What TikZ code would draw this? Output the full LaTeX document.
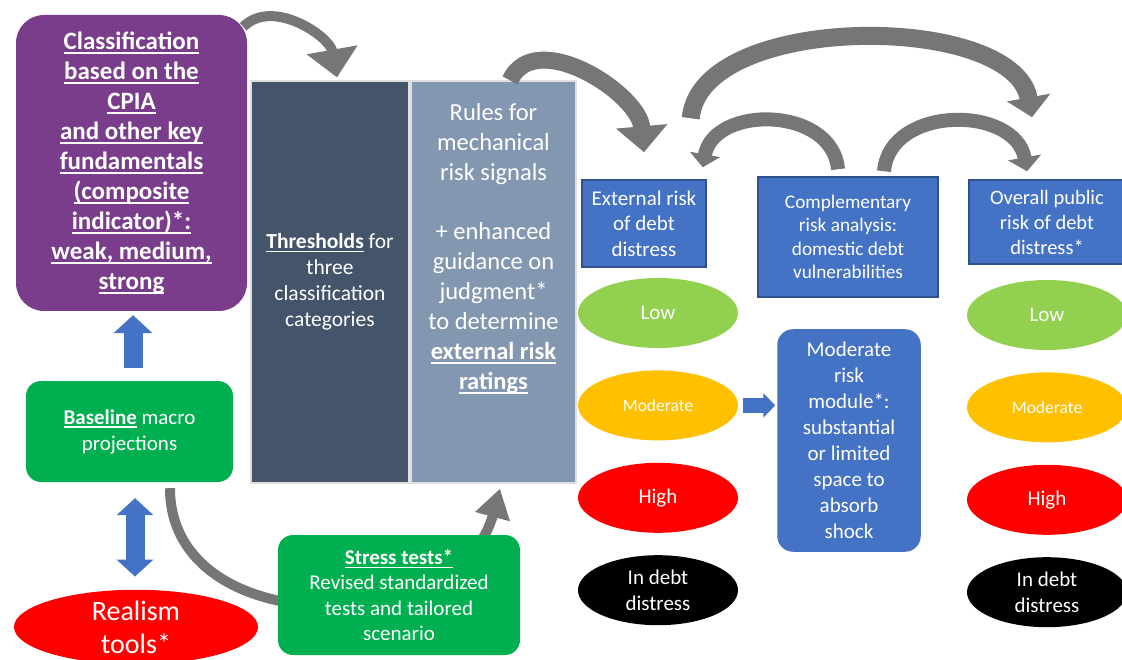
\documentclass[tikz,border=0pt]{standalone}
\usepackage{fontspec}
\setmainfont{Carlito}
\usetikzlibrary{shapes.geometric, arrows.meta, positioning}
\newsavebox{\ulbox}
\newcommand{\uln}[1]{\sbox{\ulbox}{#1}\rlap{\rule[-0.17em]{\wd\ulbox}{0.065em}}\usebox{\ulbox}}
\definecolor{dsapurple}{RGB}{122,61,140}
\definecolor{dsagreen}{RGB}{0,176,80}
\definecolor{dsablue}{RGB}{68,114,196}
\definecolor{dsablueline}{RGB}{47,82,143}
\definecolor{slatedark}{RGB}{68,84,106}
\definecolor{slatelight}{RGB}{132,151,176}
\definecolor{lowgreen}{RGB}{146,208,80}
\definecolor{amber}{RGB}{255,192,0}
\definecolor{arrowgrey}{RGB}{118,118,118}
\tikzstyle{panel} = [rectangle, text=white, align=center, inner sep=0pt]
\tikzstyle{bluebox} = [panel, fill=dsablue, draw=dsablueline, line width=1.5pt]
\tikzstyle{slate} = [panel, draw=white!75!gray, line width=1.2pt, minimum height=402pt]
\tikzstyle{rating} = [ellipse, text=white, align=center, inner sep=0pt, minimum width=160pt, minimum height=70pt, font=\fontsize{21}{26}\selectfont]
\tikzstyle{greyarrow} = [draw=arrowgrey]
\tikzstyle{blockarrow} = [draw=dsablue]

\begin{document}
\begin{tikzpicture}[x=1pt, y=-1pt, node distance=22pt]
  \useasboundingbox (0,0) rectangle (1122,660);
  \clip (0,0) rectangle (1122,660);

  % Bloques de la izquierda
  \node (classif) [panel, fill=dsapurple, rounded corners=28pt, minimum width=231pt, minimum height=296pt, font=\fontsize{25}{30}\selectfont\bfseries] at (131.5,163)
    {\uln{Classification}\\\uln{based on the}\\\uln{CPIA}\\\uln{and other key}\\\uln{fundamentals}\\\uln{(composite}\\\uln{indicator)*:}\\\uln{weak, medium,}\\\uln{strong}};
  \node (base) [panel, fill=dsagreen, rounded corners=15pt, minimum width=207pt, minimum height=101pt, font=\fontsize{21}{26}\selectfont] at (129.5,431.5)
    {\uln{\textbf{Baseline}} macro\\projections};
  \node (realism) [ellipse, fill=red, text=white, align=center, inner sep=0pt, minimum width=244pt, minimum height=74pt, font=\fontsize{28}{33}\selectfont] at (136,627)
    {Realism\\tools*};

  % Umbrales y reglas
  \node (thresh) [slate, fill=slatedark, minimum width=158pt, font=\fontsize{21.5}{26}\selectfont] at (330,282)
    {\uln{\textbf{Thresholds}} for\\three\\classification\\categories};
  \node (rules) [slate, fill=slatelight, minimum width=165pt] at (493.5,282) {};
  \node (rulestxt) [panel, anchor=north, font=\fontsize{24.5}{30}\selectfont] at ([yshift=-23pt]rules.north)
    {Rules for\\mechanical\\risk signals\\[29pt]+ enhanced\\guidance on\\judgment*\\to determine\\\uln{\textbf{external risk}}\\\uln{\textbf{ratings}}};

  % Flecha de abajo (pasa por detras de las pruebas de estres)
  \draw [greyarrow, line width=10pt, -{Triangle[width=34pt,length=29pt]}] ([xshift=40.5pt,yshift=-6pt]base.south) to[out=-90, in=-105, looseness=1.2] ([xshift=6.5pt,yshift=-5pt]rules.south);
  \node (stress) [panel, fill=dsagreen, rounded corners=15pt, minimum width=242pt, minimum height=120pt, font=\fontsize{21}{25.3}\selectfont] at (399,595)
    {\uln{\textbf{Stress tests*}}\\Revised standardized\\tests and tailored\\scenario};

  % Calificaciones externas
  \node (ext) [bluebox, minimum width=124pt, minimum height=87pt, font=\fontsize{21}{25.5}\selectfont] at (644,223.5)
    {External risk\\of debt\\distress};
  \node (lowA) [rating, fill=lowgreen] at (658,313) {Low};
  \node (modA) [rating, fill=amber, below=of lowA, font=\fontsize{17.5}{21}\selectfont] {Moderate};
  \node (highA) [rating, fill=red, below=of modA] {High};
  \node (distA) [rating, fill=black, below=of highA] {In debt\\distress};

  % Analisis complementario
  \node (comp) [bluebox, minimum width=180pt, minimum height=120pt, font=\fontsize{19.3}{23.5}\selectfont] at (848,237)
    {Complementary\\risk analysis:\\domestic debt\\vulnerabilities};
  \node (module) [bluebox, draw=dsablue, rounded corners=15pt, minimum width=142pt, minimum height=221pt, font=\fontsize{21}{26}\selectfont] at (849,440.5)
    {Moderate\\risk\\module*:\\substantial\\or limited\\space to\\absorb\\shock};

  % Riesgo global
  \node (overall) [bluebox, minimum width=156pt, minimum height=84pt, font=\fontsize{20.5}{25}\selectfont] at (1047,222)
    {Overall public\\risk of debt\\distress*};
  \node (lowB) [rating, fill=lowgreen] at (1047,315) {Low};
  \node (modB) [rating, fill=amber, below=of lowB, font=\fontsize{17.5}{21}\selectfont] {Moderate};
  \node (highB) [rating, fill=red, below=of modB] {High};
  \node (distB) [rating, fill=black, below=of highB] {In debt\\distress};

  % Flechas azules
  \draw [blockarrow, line width=19pt, -{Triangle[width=38pt,length=18pt]}] ([xshift=3.5pt,yshift=13pt]base.north) -- ([xshift=1.5pt,yshift=-4pt]classif.south);
  \draw [blockarrow, line width=19pt, {Triangle[width=36pt,length=17pt]}-{Triangle[width=36pt,length=17pt]}] ([xshift=5.5pt,yshift=-16pt]base.south) -- ([xshift=-1pt,yshift=13pt]realism.north);
  \draw [blockarrow, line width=15pt, -{Triangle[width=24pt,length=12pt]}, shorten <=5pt, shorten >=2pt] (modA.east) -- (modA.east -| module.west);

  % Flechas grises curvas
  \draw [greyarrow, line width=10pt, -{Triangle[width=50pt,length=28pt]}] ([xshift=-4pt,yshift=-12pt]classif.north east) to[out=45, in=100] ([xshift=7pt,yshift=3pt]thresh.north);
  \draw [greyarrow, line width=17pt, -{Triangle[width=50pt,length=26pt]}] ([xshift=16.5pt]rules.north) to[out=65, in=95] ([yshift=27pt]ext.north);
  \draw [greyarrow, line width=18pt, -{Triangle[width=43pt,length=20pt]}] ([xshift=-16pt,yshift=61pt]ext.north east) to[out=85, in=100, looseness=0.8] ([xshift=-15pt,yshift=62pt]overall.north);
  \draw [greyarrow, line width=14pt, -{Triangle[width=30pt,length=13pt]}] ([xshift=-10pt,yshift=7pt]comp.north) to[out=95, in=80, looseness=1.2] ([xshift=-4pt,yshift=12pt]ext.north east);
  \draw [greyarrow, line width=14pt, -{Triangle[width=33pt,length=14pt]}] ([xshift=36pt,yshift=5pt]comp.north) to[out=85, in=100, looseness=1.2] ([xshift=-20pt,yshift=8pt]overall.north);

\end{tikzpicture}
\end{document}
